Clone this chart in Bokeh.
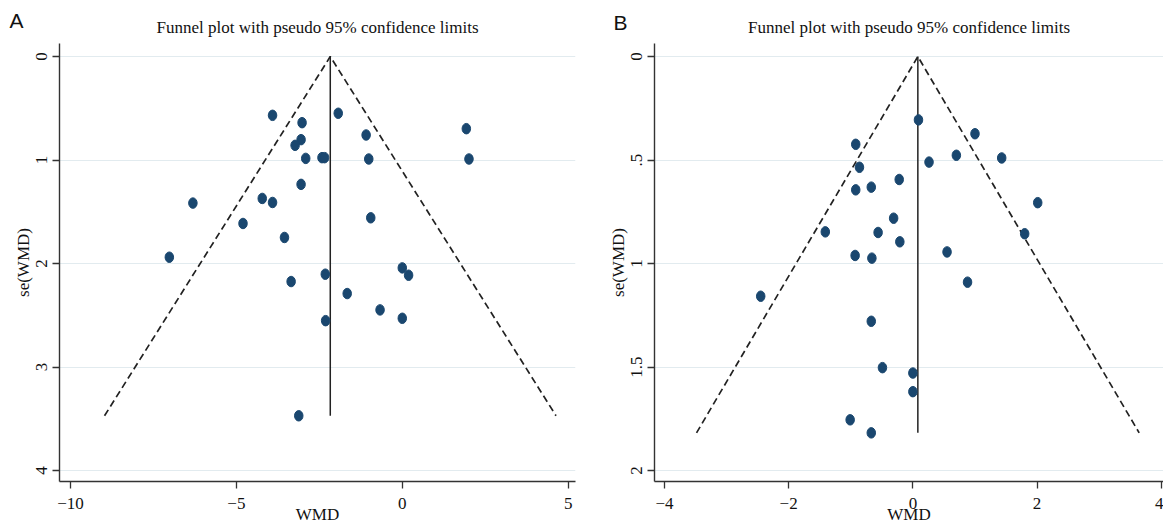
from bokeh.plotting import figure
from bokeh.layouts import row
from bokeh.models import Range1d, FixedTicker, Label, ColumnDataSource
from bokeh.embed import file_html
from bokeh.resources import INLINE

# ---------------- Panel A data ----------------
a_wmd = [-3.91, -3.02, -1.93, 1.93, -1.09, -3.05, -3.23, -2.91, -2.42, -2.34,
         -1.01, 2.01, -3.05, -6.31, -4.22, -3.91, -0.95, -4.80, -3.55, -7.02,
         0.00, -2.32, 0.19, -3.35, -1.66, -0.67, -2.31, 0.00, -3.12]
a_se = [0.568, 0.639, 0.548, 0.697, 0.758, 0.803, 0.858, 0.984, 0.977, 0.977,
        0.990, 0.990, 1.235, 1.416, 1.371, 1.410, 1.558, 1.613, 1.748, 1.939,
        2.042, 2.103, 2.113, 2.174, 2.290, 2.448, 2.552, 2.529, 3.471]
a_pooled = -2.17
a_xticks = [-10, -5, 0, 5]
a_xlabels = ["\u221210", "\u22125", "0", "5"]
a_yticks = [0, 1, 2, 3, 4]
a_ylabels = ["0", "1", "2", "3", "4"]

# ---------------- Panel B data ----------------
b_wmd = [0.09, 1.00, -0.92, 0.70, 1.43, 0.26, -0.86, -0.22, -0.67, -0.92,
         2.01, -0.31, -1.41, -0.56, 1.80, -0.21, 0.55, -0.93, -0.66, 0.88,
         -2.45, -0.67, -0.49, 0.00, 0.00, -1.01, -0.67]
b_se = [0.306, 0.373, 0.424, 0.477, 0.490, 0.510, 0.535, 0.594, 0.631, 0.644,
        0.706, 0.781, 0.847, 0.850, 0.856, 0.895, 0.944, 0.961, 0.974, 1.090,
        1.158, 1.279, 1.503, 1.529, 1.619, 1.755, 1.818]
b_pooled = 0.08
b_xticks = [-4, -2, 0, 2, 4]
b_xlabels = ["\u22124", "\u22122", "0", "2", "4"]
b_yticks = [0, 0.5, 1, 1.5, 2]
b_ylabels = ["0", ".5", "1", "1.5", "2"]

TITLE = "Funnel plot with pseudo 95% confidence limits"
SERIF = "Liberation Serif"
NAVY = "#1a476f"


def make_panel(wmd, se, pooled, xr, yr, xticks, xlabels, yticks, ylabels,
               width, bl, br):
    p = figure(width=width, height=528, x_range=Range1d(*xr), y_range=Range1d(*yr),
               output_backend="svg", toolbar_location=None,
               min_border_left=bl, min_border_right=br,
               min_border_top=43, min_border_bottom=47)
    p.outline_line_color = None
    p.background_fill_color = "white"
    p.border_fill_color = "white"

    p.title.text = TITLE
    p.title.align = "center"
    p.title.text_font = SERIF
    p.title.text_font_style = "normal"
    p.title.text_font_size = "17px"
    p.title.text_color = "#111111"
    p.title.standoff = 13

    p.xgrid.visible = False
    p.ygrid.ticker = FixedTicker(ticks=yticks)
    p.ygrid.grid_line_color = "#e2ebef"
    p.ygrid.grid_line_width = 1.2

    for ax in (p.xaxis, p.yaxis):
        ax.axis_line_color = "#333333"
        ax.axis_line_width = 1.4
        ax.major_tick_line_color = "#333333"
        ax.major_tick_line_width = 1.3
        ax.major_tick_out = 7
        ax.major_tick_in = 0
        ax.minor_tick_out = 0
        ax.minor_tick_in = 0
        ax.major_label_text_font = SERIF
        ax.major_label_text_font_size = "17px"
        ax.major_label_text_color = "#111111"
        ax.axis_label_text_font = SERIF
        ax.axis_label_text_font_style = "normal"
        ax.axis_label_text_font_size = "17px"
        ax.axis_label_text_color = "#111111"

    p.xaxis.ticker = FixedTicker(ticks=xticks)
    p.xaxis.major_label_overrides = {t: l for t, l in zip(xticks, xlabels)}
    p.xaxis.axis_label = "WMD"
    p.xaxis.major_label_standoff = 9
    p.xaxis.axis_label_standoff = -7

    p.yaxis.ticker = FixedTicker(ticks=yticks)
    p.yaxis.major_label_overrides = {t: l for t, l in zip(yticks, ylabels)}
    p.yaxis.major_label_orientation = "vertical"
    p.yaxis.axis_label = "se(WMD)"
    p.yaxis.major_label_standoff = 5
    p.yaxis.axis_label_standoff = 1

    semax = max(se)
    half = 1.96 * semax
    p.line(x=[pooled - half, pooled, pooled + half], y=[semax, 0, semax],
           line_color="#222222", line_width=1.7, line_dash="7 4")
    p.line(x=[pooled, pooled], y=[0, semax], line_color="#222222", line_width=1.5)

    src = ColumnDataSource(dict(x=wmd, y=se))
    p.ellipse(x="x", y="y", width=8.5, height=10.5, width_units="screen",
              height_units="screen", source=src, fill_color=NAVY, line_color=NAVY)
    return p


pa = make_panel(a_wmd, a_se, a_pooled, (-10.33, 5.22), (4.106, -0.126),
                a_xticks, a_xlabels, a_yticks, a_ylabels, 590, 59, 15)
pb = make_panel(b_wmd, b_se, b_pooled, (-4.16, 4.035), (2.053, -0.063),
                b_xticks, b_xlabels, b_yticks, b_ylabels, 573, 64, 0)

# panel letters, drawn in side panels (so they are not clipped to the frame)
pa.add_layout(Label(x=-566, y=461, x_units="screen", y_units="screen",
                    text="A", text_font="Liberation Sans",
                    text_font_size="21px", text_color="#111111",
                    text_baseline="middle", text_align="left"), "right")
pb.add_layout(Label(x=22, y=459, x_units="screen", y_units="screen",
                    text="B", text_font="Liberation Sans",
                    text_font_size="21px", text_color="#111111",
                    text_baseline="middle", text_align="left"), "left")

layout = row(pa, pb)
open("out.html", "w").write(file_html(layout, INLINE))
